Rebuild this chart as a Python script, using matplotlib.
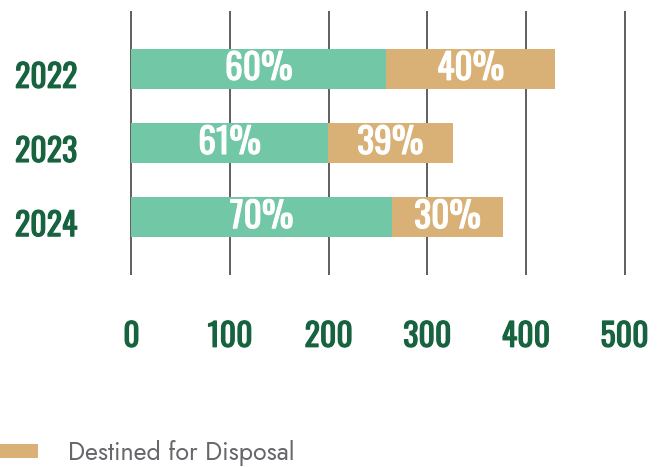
import matplotlib
matplotlib.use("Agg")
from matplotlib import pyplot as plt
from matplotlib import transforms
from matplotlib import patheffects

# data: total per year and share of each stream (%)
years = ["2022", "2023", "2024"]
totals = [430, 326, 377]
diverted_pct = [60, 61, 70]
disposal_pct = [40, 39, 30]

green = "#71c7a6"
tan = "#d9b076"
dark_green = "#17633f"
num_font = ["Oswald", "Roboto Condensed", "DejaVu Sans"]
label_font = ["Jost", "Lato", "DejaVu Sans"]

diverted = [t * p / 100 for t, p in zip(totals, diverted_pct)]
disposal = [t * p / 100 for t, p in zip(totals, disposal_pct)]


def heavy(color):
    # Oswald only ships a regular weight here, thicken the strokes a bit
    return [patheffects.withStroke(linewidth=0.8, foreground=color)]


fig = plt.figure(figsize=(6.64, 4.67), dpi=100)
ax = fig.add_axes([130 / 664, 1 - 275 / 467, 496 / 664, 264 / 467])

pos = list(range(len(years)))
b1 = ax.barh(pos, diverted, height=0.54, color=green, zorder=3)
b2 = ax.barh(pos, disposal, left=diverted, height=0.54, color=tan, zorder=3,
             label="Destined for Disposal")

# percentage labels in the middle of each segment
for i in pos:
    ax.text(diverted[i] / 2, i, "{}%".format(diverted_pct[i]), ha="center", va="center",
            color="white", fontsize=25.5, family=num_font, zorder=4,
            path_effects=heavy("white"))
    ax.text(diverted[i] + disposal[i] / 2, i, "{}%".format(disposal_pct[i]), ha="center",
            va="center", color="white", fontsize=25.5, family=num_font, zorder=4,
            path_effects=heavy("white"))

ax.set_xlim(-1.5, 501.5)
ax.set_ylim(2.78, -0.78)
ax.set_xticks([0, 100, 200, 300, 400, 500])
ax.set_yticks(pos)
ax.set_yticklabels(years)
ax.grid(axis="x", color="#444444", linewidth=1.2, zorder=0)
for s in ax.spines.values():
    s.set_visible(False)
ax.tick_params(length=0)
ax.tick_params(axis="x", pad=33)
ax.tick_params(axis="y", pad=38)
for lab in ax.get_xticklabels() + ax.get_yticklabels():
    lab.set_family(num_font)
    lab.set_fontsize(23)
    lab.set_color(dark_green)
    lab.set_path_effects(heavy(dark_green))

# years sit a little lower than the bars
shift = transforms.ScaledTranslation(0, -6 / 100, fig.dpi_scale_trans)
for lab in ax.get_yticklabels():
    lab.set_transform(lab.get_transform() + shift)

fig.legend(handles=[b2], loc="lower left", bbox_to_anchor=(-0.007, -0.008), frameon=False,
           borderpad=0.2, borderaxespad=0, handlelength=1.5, handleheight=0.45,
           handletextpad=1.2, prop={"family": label_font, "size": 18},
           labelcolor="#66676a")

plt.savefig("out.png", dpi=100)
